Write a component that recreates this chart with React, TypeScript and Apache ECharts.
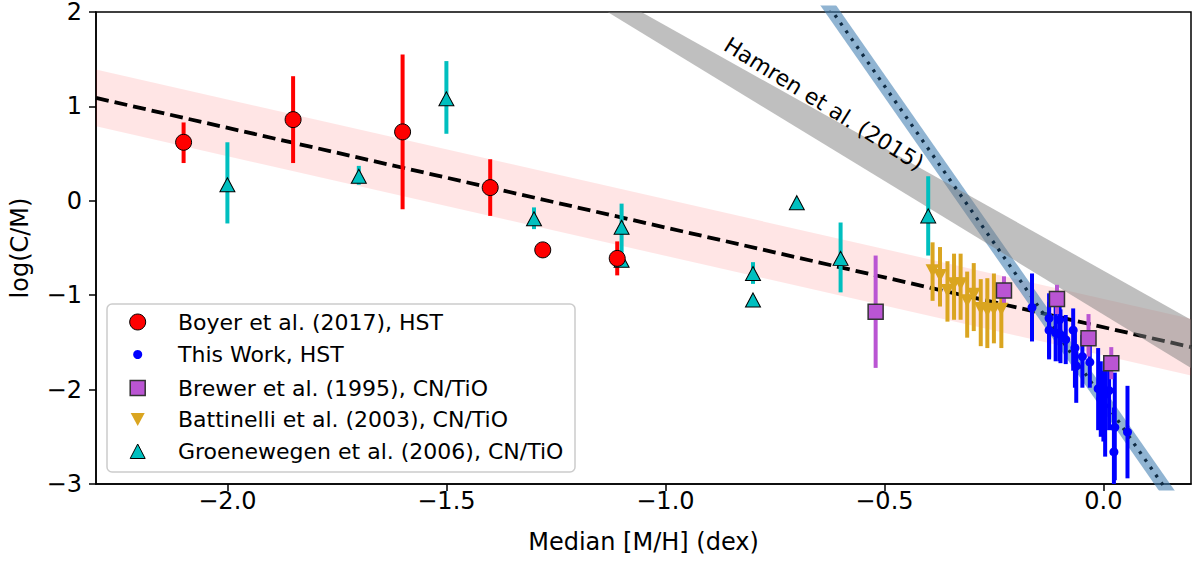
import React, { useEffect, useRef } from "react";
import * as echarts from "echarts";

// ---- axis ticks ----
const X_TICKS = [-2.0, -1.5, -1.0, -0.5, 0.0];
const X_MIN = -2.3;
const X_MAX = 0.2;
const Y_MIN = -3;
const Y_MAX = 2;

// ---- Boyer et al. (2017), HST ----
const boyerX = [-2.1, -1.85, -1.6, -1.4, -1.28, -1.11];
const boyerY = [0.62, 0.86, 0.73, 0.14, -0.52, -0.61];
const boyerLo = [0.4, 0.4, -0.09, -0.16, -0.52, -0.79];
const boyerHi = [0.83, 1.32, 1.55, 0.44, -0.52, -0.43];

// ---- This Work, HST ----
const twX = [-0.163, -0.124, -0.124, -0.109, -0.1, -0.098, -0.086, -0.069, -0.065, -0.062, -0.048, -0.031, -0.012, -0.006, 0.004, 0.0, 0.013, 0.026, 0.024, 0.055];
const twY = [-1.13, -1.245, -1.37, -1.4, -1.26, -1.42, -1.47, -1.37, -1.56, -1.75, -1.65, -1.71, -1.99, -2.1, -2.05, -2.17, -2.01, -2.4, -2.66, -2.45];
const twLo = [-1.49, -1.68, -1.66, -1.7, -1.7, -1.72, -1.73, -1.8, -1.98, -2.14, -1.98, -1.98, -2.43, -2.5, -2.71, -2.55, -2.43, -2.96, -3.1, -2.94];
const twHi = [-0.77, -0.98, -1.07, -1.12, -1.1, -1.15, -1.21, -1.14, -1.35, -1.52, -1.42, -1.49, -1.56, -1.7, -1.66, -1.8, -1.7, -1.82, -2.19, -1.96];

// ---- Brewer et al. (1995), CN/TiO ----
const brewX = [-0.52, -0.227, -0.106, -0.034, 0.018];
const brewY = [-1.175, -0.95, -1.04, -1.455, -1.72];
const brewLo = [-1.77, -1.1, -1.2, -1.65, -1.89];
const brewHi = [-0.58, -0.8, -0.89, -1.2, -1.55];

// ---- Battinelli et al. (2003), CN/TiO ----
const batX = [-0.39, -0.373, -0.356, -0.341, -0.326, -0.311, -0.296, -0.28, -0.265, -0.25, -0.233];
const batY = [-0.74, -0.79, -0.95, -0.88, -0.88, -1.06, -0.99, -1.14, -1.16, -1.15, -1.15];
const batLo = [-1.06, -1.12, -1.28, -1.26, -1.26, -1.45, -1.38, -1.54, -1.56, -1.51, -1.56];
const batHi = [-0.44, -0.49, -0.64, -0.56, -0.56, -0.75, -0.66, -0.83, -0.82, -0.77, -0.88];

// ---- Groenewegen et al. (2006), CN/TiO ----
const groX = [-2.0, -1.7, -1.5, -1.3, -1.1, -1.1, -0.8, -0.8, -0.7, -0.6, -0.4];
const groY = [0.17, 0.26, 1.08, -0.19, -0.28, -0.63, -0.77, -1.05, -0.02, -0.61, -0.16];
const groLo = [-0.24, 0.17, 0.71, -0.3, -0.55, -0.63, -0.88, -1.05, -0.02, -0.97, -0.58];
const groHi = [0.62, 0.37, 1.48, -0.07, -0.03, -0.63, -0.65, -1.05, -0.02, -0.23, 0.26];

// ---- fit lines / bands ----
const fitX = [-2.3, 0.2];
const fitY = [1.09, -1.55];
const fitUpper = [1.39, -1.25];
const fitLower = [0.79, -1.85];

const hamrenUpperX = [-1.055, 0.2];
const hamrenUpperY = [2, -1.259];
const hamrenLowerX = [-1.132, 0.2];
const hamrenLowerY = [2, -1.77];

const twFitX = [-0.65, 0.2];
const twFitY = [2.215, -3.437];

const FONT = '"DejaVu Sans", "Liberation Sans", sans-serif';

const fmt = (v: number, d: number) =>
  (v < -1e-9 ? "\u2212" : "") + Math.abs(v).toFixed(d);

const rows3 = (xs: number[], a: number[], b: number[]) =>
  xs.map((x, i) => [x, a[i], b[i]]);
const rows2 = (xs: number[], a: number[]) => xs.map((x, i) => [x, a[i]]);

const errSeries = (name: string, xs: number[], lo: number[], hi: number[], color: string, width: number) => ({
  type: "custom",
  name: name + "-err",
  z: 6,
  silent: true,
  clip: true,
  data: rows3(xs, lo, hi),
  encode: { x: 0, y: [1, 2] },
  renderItem: (params: any, api: any) => {
    const x = api.value(0);
    const p1 = api.coord([x, api.value(1)]);
    const p2 = api.coord([x, api.value(2)]);
    return {
      type: "line",
      shape: { x1: p1[0], y1: p1[1], x2: p2[0], y2: p2[1] },
      style: { stroke: color, lineWidth: width },
    };
  },
});

const polySeries = (name: string, pts: number[][], fill: string, z: number) => ({
  type: "custom",
  name,
  z,
  silent: true,
  clip: true,
  data: pts,
  encode: { x: 0, y: 1 },
  renderItem: (params: any, api: any) => {
    if (params.dataIndex !== 0) return null;
    const points = pts.map((p) => api.coord(p));
    return { type: "polygon", shape: { points }, style: { fill } };
  },
});

export default function App() {
  const ref = useRef<HTMLDivElement>(null);

  useEffect(() => {
    const chart = echarts.init(ref.current!, null, { renderer: "svg" });

    const pinkPoly = [
      [fitX[0], fitUpper[0]],
      [fitX[1], fitUpper[1]],
      [fitX[1], fitLower[1]],
      [fitX[0], fitLower[0]],
    ];
    const grayPoly = [
      [hamrenLowerX[0], hamrenLowerY[0]],
      [hamrenUpperX[0], hamrenUpperY[0]],
      [hamrenUpperX[1], hamrenUpperY[1]],
      [hamrenLowerX[1], hamrenLowerY[1]],
    ];

    const legendRows = [
      { y: 322, text: "Boyer et al. (2017), HST" },
      { y: 354.5, text: "This Work, HST" },
      { y: 388, text: "Brewer et al. (1995), CN/TiO" },
      { y: 419.5, text: "Battinelli et al. (2003), CN/TiO" },
      { y: 451.5, text: "Groenewegen et al. (2006), CN/TiO" },
    ];
    const mx = 137.7;

    const option: any = {
      animation: false,
      backgroundColor: "#ffffff",
      grid: {
        left: 96,
        right: 3,
        top: 7,
        bottom: 81,
        show: true,
        borderColor: "#000",
        borderWidth: 1.5,
        backgroundColor: "transparent",
      },
      xAxis: {
        type: "value",
        min: X_MIN,
        max: X_MAX,
        splitLine: { show: false },
        axisLine: { show: true, onZero: false, lineStyle: { color: "#000", width: 1.5 } },
        axisTick: { show: true, length: 7, customValues: X_TICKS, lineStyle: { color: "#000", width: 1.5 } },
        axisLabel: {
          customValues: X_TICKS,
          formatter: (v: number) => fmt(v, 1),
          fontSize: 24,
          fontFamily: FONT,
          color: "#000",
          margin: 5,
        },
        name: "Median [M/H] (dex)",
        nameLocation: "middle",
        nameGap: 46,
        nameTextStyle: { fontSize: 24, fontFamily: FONT, color: "#000" },
      },
      yAxis: {
        type: "value",
        min: Y_MIN,
        max: Y_MAX,
        interval: 1,
        splitLine: { show: false },
        axisLine: { show: true, onZero: false, lineStyle: { color: "#000", width: 1.5 } },
        axisTick: { show: true, length: 7, lineStyle: { color: "#000", width: 1.5 } },
        axisLabel: {
          formatter: (v: number) => fmt(v, 0),
          fontSize: 24,
          fontFamily: FONT,
          color: "#000",
          margin: 14,
        },
        name: "log(C/M)",
        nameLocation: "middle",
        nameGap: 64,
        nameTextStyle: { fontSize: 24, fontFamily: FONT, color: "#000" },
      },
      series: [
        polySeries("fitband", pinkPoly, "rgba(255,0,0,0.1)", 1),
        {
          type: "line",
          name: "fit",
          z: 2,
          silent: true,
          symbol: "none",
          data: rows2(fitX, fitY),
          lineStyle: { color: "#000", width: 3.8, type: [13, 6], cap: "butt" },
        },
        {
          type: "line",
          name: "twband",
          z: 3,
          silent: true,
          symbol: "none",
          clip: true,
          data: rows2(twFitX, twFitY),
          lineStyle: { color: "rgba(70,130,180,0.6)", width: 13, cap: "butt" },
        },
        polySeries("hamren", grayPoly, "rgba(128,128,128,0.5)", 4),
        {
          type: "line",
          name: "twfit",
          z: 5,
          silent: true,
          symbol: "none",
          clip: true,
          data: rows2(twFitX, twFitY),
          lineStyle: { color: "#102c44", width: 3.3, type: [3, 6.5], cap: "butt" },
        },
        // Groenewegen
        errSeries("gro", groX, groLo, groHi, "#00bfbf", 4),
        {
          type: "scatter",
          name: "Groenewegen",
          z: 6,
          symbol: "triangle",
          symbolSize: [15, 14],
          data: rows2(groX, groY),
          itemStyle: { color: "#00bfbf", borderColor: "#000", borderWidth: 1, opacity: 1 },
        },
        // Boyer
        errSeries("boyer", boyerX, boyerLo, boyerHi, "#ff0000", 4),
        {
          type: "scatter",
          name: "Boyer",
          z: 6,
          symbol: "circle",
          symbolSize: 16,
          data: rows2(boyerX, boyerY),
          itemStyle: { color: "#ff0000", borderColor: "#000", borderWidth: 1, opacity: 1 },
        },
        // This work
        errSeries("tw", twX, twLo, twHi, "#0000ff", 4),
        {
          type: "scatter",
          name: "This Work",
          z: 6,
          symbol: "circle",
          symbolSize: 9,
          data: rows2(twX, twY),
          itemStyle: { color: "#0000ff", opacity: 1 },
        },
        // Battinelli
        errSeries("bat", batX, batLo, batHi, "#daa520", 4),
        {
          type: "scatter",
          name: "Battinelli",
          z: 6,
          symbol: "triangle",
          symbolRotate: 180,
          symbolSize: [14, 13],
          data: rows2(batX, batY),
          itemStyle: { color: "#daa520", opacity: 1 },
        },
        // Brewer
        errSeries("brew", brewX, brewLo, brewHi, "#ba55d3", 4),
        {
          type: "scatter",
          name: "Brewer",
          z: 6,
          symbol: "rect",
          symbolSize: 15,
          data: rows2(brewX, brewY),
          itemStyle: { color: "#ba55d3", borderColor: "#333", borderWidth: 1.5, opacity: 1 },
        },
      ],
      graphic: [
        {
          type: "text",
          x: 824,
          y: 104,
          rotation: (-32 * Math.PI) / 180,
          z: 50,
          style: {
            text: "Hamren et al. (2015)",
            fontSize: 22,
            fontFamily: FONT,
            fill: "#000",
            align: "center",
            verticalAlign: "middle",
            textAlign: "center",
            textVerticalAlign: "middle",
          },
        },
        {
          type: "group",
          z: 100,
          children: [
            {
              type: "rect",
              shape: { x: 107, y: 304, width: 468, height: 168, r: 5 },
              style: { fill: "rgba(255,255,255,0.8)", stroke: "#cccccc", lineWidth: 1.5 },
            },
            {
              type: "circle",
              shape: { cx: mx, cy: legendRows[0].y, r: 8 },
              style: { fill: "#ff0000", stroke: "#000", lineWidth: 1 },
            },
            {
              type: "circle",
              shape: { cx: mx, cy: legendRows[1].y, r: 4.5 },
              style: { fill: "#0000ff" },
            },
            {
              type: "rect",
              shape: { x: mx - 7.5, y: legendRows[2].y - 7.5, width: 15, height: 15 },
              style: { fill: "#ba55d3", stroke: "#333", lineWidth: 1.5 },
            },
            {
              type: "polygon",
              shape: {
                points: [
                  [mx - 7, legendRows[3].y - 6.5],
                  [mx + 7, legendRows[3].y - 6.5],
                  [mx, legendRows[3].y + 6.5],
                ],
              },
              style: { fill: "#daa520" },
            },
            {
              type: "polygon",
              shape: {
                points: [
                  [mx, legendRows[4].y - 7.5],
                  [mx + 7.5, legendRows[4].y + 7],
                  [mx - 7.5, legendRows[4].y + 7],
                ],
              },
              style: { fill: "#00bfbf", stroke: "#000", lineWidth: 1 },
            },
            ...legendRows.map((r) => ({
              type: "text",
              x: 178,
              y: r.y,
              style: {
                text: r.text,
                fontSize: 22,
                fontFamily: FONT,
                fill: "#000",
                align: "left",
                verticalAlign: "middle",
                textAlign: "left",
                textVerticalAlign: "middle",
              },
            })),
          ],
        },
      ],
    };

    chart.setOption(option);
    return () => chart.dispose();
  }, []);

  return (
    <div
      ref={ref}
      style={{ position: "absolute", left: 0, top: 0, width: 1194, height: 565 }}
    />
  );
}
